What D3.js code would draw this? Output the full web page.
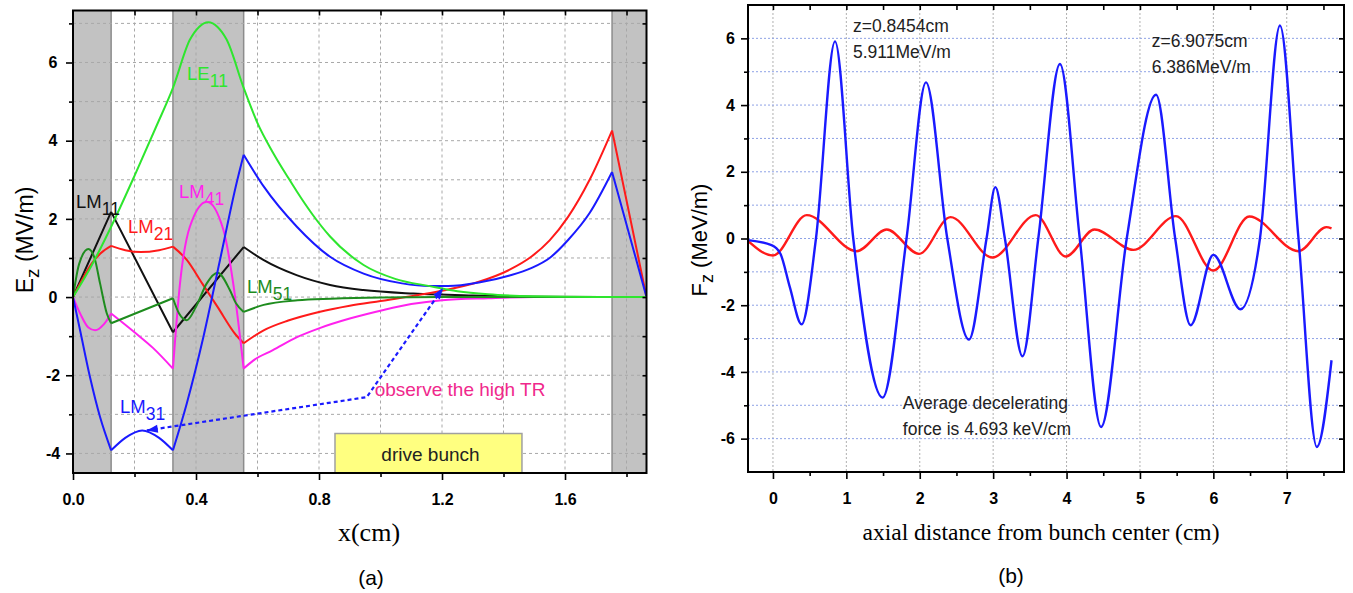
<!DOCTYPE html>
<html lang="en">
<head>
<meta charset="UTF-8"/>
<title>Ez of the modes and longitudinal wake force</title>
<script src="https://d3js.org/d3.v7.min.js"></script>
<style>
    body { margin: 0; background: #fff; }
</style>
</head>
<body>
<div id="content-area"></div>
<script>
    // ---------- panel (a): Ez of each mode, [x (cm), Ez (MV/m)] ----------
    var dielectric = [[0, 0.124], [0.325, 0.555], [1.753, 1.865]];
    var cuts = [0.124, 0.325, 0.555, 1.753];
    var driveBunch = [0.852, 1.46];

    var le11 = [[0,0],[0.06,0.8],[0.124,1.8],[0.2,3.1],[0.27,4.35],[0.325,5.35],[0.38,6.58],[0.41,6.91],
        [0.44,7.03],[0.47,6.91],[0.5,6.58],[0.555,5.35],[0.6,4.45],[0.65,3.7],[0.7,3.05],[0.728,2.7],
        [0.78,2.1],[0.836,1.55],[0.945,0.82],[1.05,0.46],[1.16,0.28],[1.25,0.15],[1.35,0.07],[1.5,0.02],
        [1.7,0],[1.865,0]];
    var lm11 = [[0,0],[0.124,2.18],[0.325,-0.9],[0.555,1.28],[0.619,0.95],[0.727,0.56],[0.836,0.31],
        [0.944,0.18],[1.107,0.09],[1.3,0.04],[1.5,0.01],[1.753,0],[1.865,0]];
    var lm21 = [[0,0],[0.03,0.45],[0.06,0.85],[0.09,1.12],[0.124,1.31],[0.17,1.2],[0.22,1.15],[0.28,1.2],
        [0.325,1.29],[0.37,0.95],[0.42,0.35],[0.47,-0.25],[0.53,-0.97],[0.555,-1.18],[0.62,-0.85],
        [0.7,-0.6],[0.8,-0.38],[0.9,-0.22],[1.0,-0.1],[1.1,0.02],[1.2,0.16],[1.32,0.39],[1.42,0.7],
        [1.49,1.03],[1.55,1.45],[1.61,2.05],[1.68,3.0],[1.753,4.26],[1.865,0]];
    var lm31 = [[0,0],[0.023,-0.85],[0.055,-2.04],[0.088,-3.07],[0.124,-3.92],[0.17,-3.6],[0.225,-3.41],
        [0.28,-3.6],[0.325,-3.92],[0.37,-2.72],[0.424,-1.02],[0.478,0.95],[0.532,2.92],[0.555,3.64],
        [0.62,2.83],[0.728,1.8],[0.836,1.03],[0.945,0.6],[1.07,0.35],[1.16,0.28],[1.22,0.28],[1.32,0.37],
        [1.42,0.55],[1.49,0.74],[1.55,1.0],[1.61,1.46],[1.68,2.15],[1.753,3.2],[1.865,0]];
    var lm41 = [[0,0],[0.025,-0.45],[0.05,-0.78],[0.072,-0.85],[0.1,-0.7],[0.124,-0.42],[0.2,-0.9],
        [0.26,-1.3],[0.325,-1.83],[0.348,0.35],[0.38,1.8],[0.435,2.44],[0.489,1.72],[0.521,0.35],
        [0.555,-1.83],[0.587,-1.62],[0.65,-1.36],[0.73,-1.02],[0.8,-0.8],[0.9,-0.55],[1.01,-0.33],
        [1.1,-0.18],[1.2,-0.08],[1.35,-0.03],[1.5,0],[1.753,0],[1.865,0]];
    var lm51 = [[0,0],[0.02,0.85],[0.05,1.23],[0.07,1.0],[0.088,0.35],[0.11,-0.42],[0.124,-0.67],
        [0.325,-0.03],[0.345,-0.42],[0.37,-0.59],[0.4,-0.25],[0.435,0.35],[0.47,0.62],[0.51,0.18],
        [0.53,-0.16],[0.555,-0.38],[0.62,-0.2],[0.73,-0.08],[0.84,-0.04],[1.0,-0.01],[1.2,0],
        [1.753,0],[1.865,0]];

    var xTicksA = [0, 0.4, 0.8, 1.2, 1.6];
    var yTicksA = [-4, -2, 0, 2, 4, 6];

    // ---------- panel (b): Fz along the bunch, [z (cm), Fz (MeV/m)] ----------
    var fzTotal = [[-0.34,-0.05],[-0.02,-0.2],[0.1,-0.45],[0.23,-1.46],[0.39,-2.57],[0.586,0],
        [0.8454,5.911],[1.094,0],[1.494,-4.77],[1.82,0],[2.085,4.68],[2.375,0],[2.67,-3.03],[2.91,0],
        [3.03,1.54],[3.16,0],[3.40,-3.53],[3.615,0],[3.91,5.23],[4.18,0],[4.47,-5.65],[4.82,0],
        [5.22,4.31],[5.48,0],[5.69,-2.6],[6.0,-0.49],[6.37,-2.12],[6.635,0],[6.9075,6.386],[7.16,0],
        [7.41,-6.25],[7.61,-3.65]];
    var fzAverage = [[-0.34,-0.07],[0.0,-0.51],[0.46,0.7],[1.14,-0.38],[1.55,0.27],[1.99,-0.46],
        [2.42,0.64],[2.99,-0.57],[3.58,0.7],[3.99,-0.54],[4.38,0.27],[4.91,-0.34],[5.49,0.67],
        [6.0,-0.96],[6.49,0.66],[7.16,-0.38],[7.54,0.34],[7.61,0.3]];

    var xTicksB = [0, 1, 2, 3, 4, 5, 6, 7];
    var yTicksB = [-6, -4, -2, 0, 2, 4, 6];

    // ---------- page ----------
    var width = 1353;
    var height = 593;
    var sans = "Liberation Sans, Arial, sans-serif";
    var serif = "Liberation Serif, Times New Roman, serif";

    const svg = d3.select("#content-area")
        .append("svg")
        .attr("width", width)
        .attr("height", height)
        .attr("font-family", sans);

    // split a series at the layer boundaries so the kinks stay sharp
    function splitAt(points, marks) {
        var segs = [[]];
        points.forEach(function(p) {
            var cur = segs[segs.length - 1];
            cur.push(p);
            if (cur.length > 1 && marks.indexOf(p[0]) >= 0) segs.push([p]);
        });
        return segs.filter(function(s) { return s.length > 1; });
    }

    function arrowHead(g, x0, y0, x1, y1, color) {
        // tip at (x1, y1), pointing from (x0, y0)
        var a = Math.atan2(y1 - y0, x1 - x0);
        var L = 11, w = 4;
        var bx = x1 - L * Math.cos(a), by = y1 - L * Math.sin(a);
        var pts = [[x1, y1],
            [bx + w * Math.sin(a), by - w * Math.cos(a)],
            [bx - w * Math.sin(a), by + w * Math.cos(a)]];
        g.append("polygon")
            .attr("points", pts.map(function(p) { return p.join(","); }).join(" "))
            .attr("fill", color);
    }

    function ticks(g, axis) {
        g.call(axis);
        g.select(".domain").remove();
        g.selectAll(".tick line").attr("stroke", "#000").attr("stroke-width", 1.6);
        g.selectAll("text")
            .attr("font-family", sans)
            .attr("font-size", "16px")
            .attr("font-weight", "bold")
            .attr("fill", "#000");
        return g;
    }

    var plain = function(d) { return String(d); };   // hyphen minus, as in the figure

    // ================= panel (a) =================
    var xA = d3.scaleLinear().domain([0, 1.865]).range([73, 646.5]);
    var yA = d3.scaleLinear().domain([-4.5, 7.33]).range([473, 10.5]);

    var gA = svg.append("g");

    gA.append("clipPath").attr("id", "clipA")
        .append("rect")
        .attr("x", xA(0)).attr("y", yA(7.33))
        .attr("width", xA(1.865) - xA(0)).attr("height", yA(-4.5) - yA(7.33));

    // dielectric layers
    gA.selectAll("rect.layer")
        .data(dielectric)
        .enter()
        .append("rect")
        .attr("class", "layer")
        .attr("x", function(d) { return xA(d[0]); })
        .attr("y", yA(7.33))
        .attr("width", function(d) { return xA(d[1]) - xA(d[0]); })
        .attr("height", yA(-4.5) - yA(7.33))
        .attr("fill", "#c2c2c2");

    gA.selectAll("line.edge")
        .data(cuts)
        .enter()
        .append("line")
        .attr("x1", function(d) { return xA(d); })
        .attr("x2", function(d) { return xA(d); })
        .attr("y1", yA(7.33)).attr("y2", yA(-4.5))
        .attr("stroke", "#8c8c8c")
        .attr("stroke-width", 1.5);

    // grid
    gA.selectAll("line.vgrid")
        .data(d3.range(1, 10).map(function(i) { return i * 0.2; }))
        .enter()
        .append("line")
        .attr("x1", function(d) { return xA(d); })
        .attr("x2", function(d) { return xA(d); })
        .attr("y1", yA(7.33)).attr("y2", yA(-4.5))
        .attr("stroke", "#a8a8a8")
        .attr("stroke-dasharray", "3,3");

    gA.selectAll("line.hgrid")
        .data(d3.range(-4, 8))
        .enter()
        .append("line")
        .attr("x1", xA(0)).attr("x2", xA(1.865))
        .attr("y1", function(d) { return yA(d); })
        .attr("y2", function(d) { return yA(d); })
        .attr("stroke", "#a8a8a8")
        .attr("stroke-dasharray", "3,3");

    // drive bunch
    gA.append("rect")
        .attr("x", xA(driveBunch[0]))
        .attr("y", yA(-3.49))
        .attr("width", xA(driveBunch[1]) - xA(driveBunch[0]))
        .attr("height", yA(-4.5) - yA(-3.49))
        .attr("fill", "#ffff80")
        .attr("stroke", "#a0a0a0")
        .attr("stroke-width", 1.5);

    gA.append("text")
        .attr("x", xA((driveBunch[0] + driveBunch[1]) / 2) + 2)
        .attr("y", yA(-4.2))
        .attr("text-anchor", "middle")
        .attr("font-size", "19px")
        .attr("fill", "#222")
        .text("drive bunch");

    // curves
    var lineA = d3.line()
        .x(function(d) { return xA(d[0]); })
        .y(function(d) { return yA(d[1]); })
        .curve(d3.curveMonotoneX);

    var modes = [
        { name: "LM11", data: lm11, color: "#111111", kinked: true },
        { name: "LM21", data: lm21, color: "#ff1a1a", kinked: true },
        { name: "LM41", data: lm41, color: "#ff22ee", kinked: true },
        { name: "LM51", data: lm51, color: "#1e8c1e", kinked: true },
        { name: "LM31", data: lm31, color: "#1a1aff", kinked: true },
        { name: "LE11", data: le11, color: "#2ee62e", kinked: false }
    ];

    var curvesA = gA.append("g").attr("clip-path", "url(#clipA)");
    curvesA.selectAll("path.mode")
        .data(modes)
        .enter()
        .append("path")
        .attr("class", "mode")
        .attr("d", function(m) {
            var segs = m.kinked ? splitAt(m.data, cuts) : [m.data];
            return segs.map(function(s) { return lineA(s); }).join("");
        })
        .attr("fill", "none")
        .attr("stroke", function(m) { return m.color; })
        .attr("stroke-width", 2);

    // mode labels
    var modeLabels = [
        { main: "LE", sub: "11", x: 0.371, y: 5.56, color: "#2ee62e" },
        { main: "LM", sub: "11", x: 0.01, y: 2.29, color: "#111111" },
        { main: "LM", sub: "21", x: 0.179, y: 1.65, color: "#ff1a1a" },
        { main: "LM", sub: "41", x: 0.345, y: 2.54, color: "#ff22ee" },
        { main: "LM", sub: "51", x: 0.566, y: 0.11, color: "#1e8c1e" },
        { main: "LM", sub: "31", x: 0.153, y: -2.96, color: "#1a1aff" }
    ];

    var lbl = gA.selectAll("text.mode")
        .data(modeLabels)
        .enter()
        .append("text")
        .attr("class", "mode")
        .attr("x", function(d) { return xA(d.x); })
        .attr("y", function(d) { return yA(d.y); })
        .attr("font-size", "18.5px")
        .attr("fill", function(d) { return d.color; });
    lbl.append("tspan").text(function(d) { return d.main; });
    lbl.append("tspan").attr("dy", 7).attr("font-size", "17.5px").text(function(d) { return d.sub; });

    // "observe the high TR" pointer
    var corner = [0.955, -2.56], toLM31 = [0.24, -3.41], toTop = [1.203, 0.23];
    gA.append("path")
        .attr("d", "M" + xA(toLM31[0]) + "," + yA(toLM31[1]) +
                   "L" + xA(corner[0]) + "," + yA(corner[1]) +
                   "L" + xA(toTop[0]) + "," + yA(toTop[1]))
        .attr("fill", "none")
        .attr("stroke", "#1a1aff")
        .attr("stroke-width", 2.2)
        .attr("stroke-dasharray", "4,3");
    arrowHead(gA, xA(corner[0]), yA(corner[1]), xA(toLM31[0]), yA(toLM31[1]), "#1a1aff");
    arrowHead(gA, xA(corner[0]), yA(corner[1]), xA(toTop[0]), yA(toTop[1]), "#1a1aff");

    gA.append("text")
        .attr("x", xA(corner[0]) + 8)
        .attr("y", yA(-2.54))
        .attr("font-size", "19px")
        .attr("fill", "#f0288c")
        .text("observe the high TR");

    // frame and axes
    gA.append("rect")
        .attr("x", xA(0)).attr("y", yA(7.33))
        .attr("width", xA(1.865) - xA(0)).attr("height", yA(-4.5) - yA(7.33))
        .attr("fill", "none").attr("stroke", "#000").attr("stroke-width", 2);

    ticks(gA.append("g").attr("transform", "translate(0," + yA(-4.5) + ")"),
        d3.axisBottom(xA).tickValues(xTicksA).tickSize(7).tickPadding(14).tickFormat(d3.format(".1f")));
    ticks(gA.append("g").attr("transform", "translate(0," + yA(-4.5) + ")"),
        d3.axisBottom(xA).tickValues([0.2, 0.6, 1.0, 1.4, 1.8]).tickSize(4).tickFormat(""));
    ticks(gA.append("g").attr("transform", "translate(0," + yA(7.33) + ")"),
        d3.axisBottom(xA).tickValues(d3.range(1, 10).map(function(i) { return i * 0.2; })).tickSize(5).tickFormat(""));
    var ayA = ticks(gA.append("g").attr("transform", "translate(" + xA(0) + ",0)"),
        d3.axisLeft(yA).tickValues(yTicksA).tickSize(7).tickPadding(12).tickFormat(plain));
    ticks(gA.append("g").attr("transform", "translate(" + xA(0) + ",0)"),
        d3.axisLeft(yA).tickValues([-3, -1, 1, 3, 5, 7]).tickSize(4).tickFormat(""));
    ticks(gA.append("g").attr("transform", "translate(" + xA(1.865) + ",0)"),
        d3.axisLeft(yA).tickValues(d3.range(-4, 8)).tickSize(4).tickFormat(""));

    ayA.selectAll("text").attr("text-anchor", "middle").attr("x", -20);

    // axis titles
    var ttlA = gA.append("text")
        .attr("transform", "translate(33," + 240 + ")rotate(-90)")
        .attr("text-anchor", "middle")
        .attr("font-size", "23px");
    ttlA.append("tspan").text("E");
    ttlA.append("tspan").attr("dy", 6).attr("font-size", "19px").text("z");
    ttlA.append("tspan").attr("dy", -6).text(" (MV/m)");

    gA.append("text")
        .attr("x", 369).attr("y", 541)
        .attr("text-anchor", "middle")
        .attr("font-family", serif)
        .attr("font-size", "26px")
        .text("x(cm)");

    gA.append("text")
        .attr("x", 371).attr("y", 585)
        .attr("text-anchor", "middle")
        .attr("font-size", "21px")
        .text("(a)");

    // ================= panel (b) =================
    var xB = d3.scaleLinear().domain([-0.34, 7.78]).range([748, 1344]);
    var yB = d3.scaleLinear().domain([-7, 7]).range([472, 5]);

    var gB = svg.append("g");

    gB.append("clipPath").attr("id", "clipB")
        .append("rect")
        .attr("x", xB(-0.34)).attr("y", yB(7))
        .attr("width", xB(7.78) - xB(-0.34)).attr("height", yB(-7) - yB(7));

    gB.selectAll("line.vgrid")
        .data(xTicksB)
        .enter()
        .append("line")
        .attr("x1", function(d) { return xB(d); })
        .attr("x2", function(d) { return xB(d); })
        .attr("y1", yB(7)).attr("y2", yB(-7))
        .attr("stroke", "#b0b0b0")
        .attr("stroke-dasharray", "2,2");

    gB.selectAll("line.hgrid")
        .data(d3.range(-6, 7))
        .enter()
        .append("line")
        .attr("x1", xB(-0.34)).attr("x2", xB(7.78))
        .attr("y1", function(d) { return yB(d); })
        .attr("y2", function(d) { return yB(d); })
        .attr("stroke", "#8ea2e6")
        .attr("stroke-dasharray", "2,2");

    var lineB = d3.line()
        .x(function(d) { return xB(d[0]); })
        .y(function(d) { return yB(d[1]); })
        .curve(d3.curveMonotoneX);

    var forces = [
        { data: fzAverage, color: "#ff1a1a" },
        { data: fzTotal, color: "#1a1aff" }
    ];

    gB.append("g").attr("clip-path", "url(#clipB)")
        .selectAll("path")
        .data(forces)
        .enter()
        .append("path")
        .attr("d", function(f) { return lineB(f.data); })
        .attr("fill", "none")
        .attr("stroke", function(f) { return f.color; })
        .attr("stroke-width", 2.4);

    var notes = [
        { lines: ["z=0.8454cm", "5.911MeV/m"], x: 1.09, y: 6.18 },
        { lines: ["z=6.9075cm", "6.386MeV/m"], x: 5.16, y: 5.73 },
        { lines: ["Average decelerating", "force is 4.693 keV/cm"], x: 1.77, y: -5.1 }
    ];

    notes.forEach(function(n) {
        gB.selectAll(null)
            .data(n.lines)
            .enter()
            .append("text")
            .attr("x", xB(n.x))
            .attr("y", function(d, i) { return yB(n.y) + i * 26; })
            .attr("font-size", "17.5px")
            .attr("fill", "#222")
            .text(function(d) { return d; });
    });

    gB.append("rect")
        .attr("x", xB(-0.34)).attr("y", yB(7))
        .attr("width", xB(7.78) - xB(-0.34)).attr("height", yB(-7) - yB(7))
        .attr("fill", "none").attr("stroke", "#000").attr("stroke-width", 2);

    ticks(gB.append("g").attr("transform", "translate(0," + yB(-7) + ")"),
        d3.axisBottom(xB).tickValues(xTicksB).tickSize(7).tickPadding(14).tickFormat(plain));
    ticks(gB.append("g").attr("transform", "translate(0," + yB(-7) + ")"),
        d3.axisBottom(xB).tickValues(d3.range(0, 8).map(function(i) { return i + 0.5; })).tickSize(4).tickFormat(""));
    ticks(gB.append("g").attr("transform", "translate(0," + yB(7) + ")"),
        d3.axisBottom(xB).tickValues(d3.range(0, 16).map(function(i) { return i * 0.5; })).tickSize(5).tickFormat(""));
    ticks(gB.append("g").attr("transform", "translate(" + xB(-0.34) + ",0)"),
        d3.axisLeft(yB).tickValues(yTicksB).tickSize(7).tickPadding(6).tickFormat(plain));
    ticks(gB.append("g").attr("transform", "translate(" + xB(-0.34) + ",0)"),
        d3.axisLeft(yB).tickValues([-5, -3, -1, 1, 3, 5]).tickSize(4).tickFormat(""));
    ticks(gB.append("g").attr("transform", "translate(" + xB(7.78) + ",0)"),
        d3.axisLeft(yB).tickValues(d3.range(-6, 7)).tickSize(5).tickFormat(""));

    var ttlB = gB.append("text")
        .attr("transform", "translate(707," + 240 + ")rotate(-90)")
        .attr("text-anchor", "middle")
        .attr("font-size", "22px");
    ttlB.append("tspan").text("F");
    ttlB.append("tspan").attr("dy", 6).attr("font-size", "18px").text("z");
    ttlB.append("tspan").attr("dy", -6).text(" (MeV/m)");

    gB.append("text")
        .attr("x", 1041).attr("y", 540)
        .attr("text-anchor", "middle")
        .attr("font-family", serif)
        .attr("font-size", "23.5px")
        .text("axial distance from bunch center (cm)");

    gB.append("text")
        .attr("x", 1011).attr("y", 583)
        .attr("text-anchor", "middle")
        .attr("font-size", "21px")
        .text("(b)");
</script>
</body>
</html>
